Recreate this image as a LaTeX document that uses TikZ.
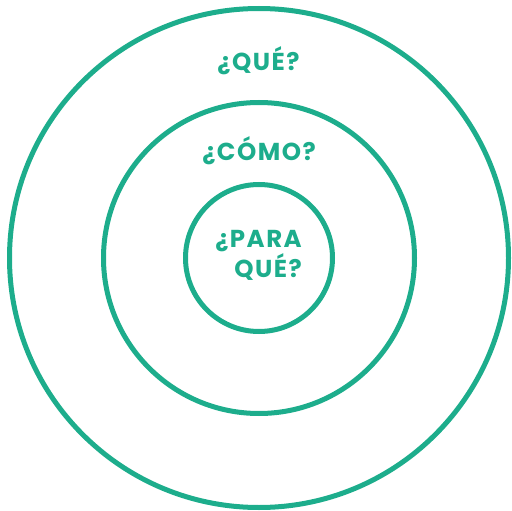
\documentclass[tikz,border=0pt]{standalone}
\usepackage{fontspec}
\setmainfont{Poppins}[LetterSpace=6]
\usepackage{tikz}
\usetikzlibrary{positioning}
\definecolor{teal1}{HTML}{1DAD8C}
\tikzset{
	ring/.style={draw=teal1, line width=5pt},
	lbl/.style={text=teal1, font=\fontsize{24.5}{30}\selectfont\bfseries, inner sep=0pt}
}

\begin{document}
\begin{tikzpicture}[x=1pt, y=-1pt]
		
		% ---------------------
		% Proper size --- Bounding box
		\useasboundingbox (0,0) rectangle (512,511);
		
		% ---------------------
		% Rings
		\coordinate (Center) at (259,258);
		
		\draw[ring] (Center) circle (249.5);
		\draw[ring] (Center) circle (155.5);
		\draw[ring] (Center) circle (73.5);
		
		% ---------------------
		% Labels
		\node[lbl] (Que) at (258.5,61) {¿QUÉ?};
		\node[lbl] (Como) at (259,151) {¿CÓMO?};
		\node[lbl, align=right, anchor=east] (Para) at (302,255) {¿PARA\\QUÉ?};
		
\end{tikzpicture}
\end{document}
